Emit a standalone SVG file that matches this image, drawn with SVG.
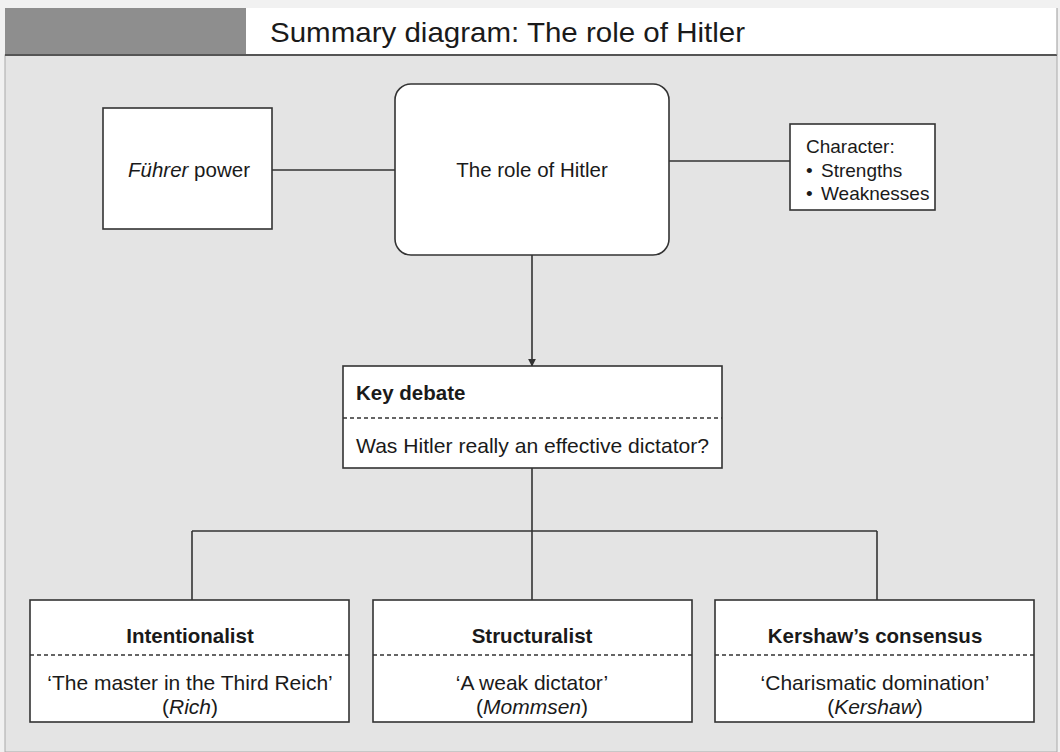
<svg xmlns="http://www.w3.org/2000/svg" width="1060" height="752" viewBox="0 0 1060 752">
<style>
text{font-family:"Liberation Sans",Arial,sans-serif;fill:#1a1a1a}
.box{fill:#fff;stroke:#333;stroke-width:1.6}
.dash{stroke:#333;stroke-width:1.4;stroke-dasharray:4 3;fill:none}
.conn{stroke:#333;stroke-width:1.6;fill:none}
.t20{font-size:20.5px}
.t19{font-size:19px}
.t21{font-size:21px}
.b{font-weight:bold}
.c{text-anchor:middle}
</style>
<defs>
<marker id="arr" viewBox="0 0 10 10" refX="9" refY="5" markerWidth="8" markerHeight="8" orient="auto" markerUnits="userSpaceOnUse">
<path d="M0,0 L10,5 L0,10 z" fill="#333"/>
</marker>
</defs>
<rect width="1060" height="752" fill="#f1f1f1"/>
<rect x="5" y="55" width="1052" height="697" fill="#e4e4e4" stroke="#aaa" stroke-width="1"/>
<g id="header">
<rect x="5" y="8" width="241" height="47" fill="#8e8e8e"/>
<rect x="246" y="8" width="811" height="47" fill="#fff"/>
<line x1="5" y1="55" x2="1057" y2="55" stroke="#555" stroke-width="2"/>
<line x1="1057" y1="8" x2="1057" y2="55" stroke="#999" stroke-width="1"/>
<text x="270" y="42" font-size="28" textLength="475" lengthAdjust="spacingAndGlyphs" fill="#333">Summary diagram: The role of Hitler</text>
</g>
<g id="connectors">
<line class="conn" x1="272" y1="170" x2="395" y2="170"/>
<line class="conn" x1="669" y1="161" x2="790" y2="161"/>
<line class="conn" x1="532" y1="255" x2="532" y2="366" marker-end="url(#arr)"/>
<line class="conn" x1="532" y1="468" x2="532" y2="531"/>
<line class="conn" x1="192" y1="531" x2="877" y2="531"/>
<line class="conn" x1="192" y1="531" x2="192" y2="600"/>
<line class="conn" x1="532" y1="531" x2="532" y2="600"/>
<line class="conn" x1="877" y1="531" x2="877" y2="600"/>
</g>
<g id="fuhrer">
<rect class="box" x="103" y="108" width="169" height="121"/>
<text class="t20 c" x="189" y="177"><tspan font-style="italic">Führer</tspan> power</text>
</g>
<g id="role">
<rect class="box" x="395" y="84" width="274" height="171" rx="16"/>
<text class="t20 c" x="532" y="177">The role of Hitler</text>
</g>
<g id="character">
<rect class="box" x="790" y="124" width="145" height="86"/>
<text class="t19" x="806" y="153">Character:</text>
<text class="t19" x="806" y="177">•</text>
<text class="t19" x="821" y="177">Strengths</text>
<text class="t19" x="806" y="200">•</text>
<text class="t19" x="821" y="200">Weaknesses</text>
</g>
<g id="keydebate">
<rect class="box" x="343" y="366" width="379" height="102"/>
<line class="dash" x1="343" y1="418" x2="722" y2="418"/>
<text class="t20 b" x="356" y="400">Key debate</text>
<text class="t21" x="356" y="453" textLength="353" lengthAdjust="spacingAndGlyphs">Was Hitler really an effective dictator?</text>
</g>
<g id="intentionalist">
<rect class="box" x="30" y="600" width="319" height="122"/>
<line class="dash" x1="30" y1="655" x2="349" y2="655"/>
<text class="t20 b c" x="190" y="643">Intentionalist</text>
<text class="t21 c" x="190" y="690">‘The master in the Third Reich’</text>
<text class="t21 c" x="190" y="714">(<tspan font-style="italic">Rich</tspan>)</text>
</g>
<g id="structuralist">
<rect class="box" x="373" y="600" width="319" height="122"/>
<line class="dash" x1="373" y1="655" x2="692" y2="655"/>
<text class="t20 b c" x="532" y="643">Structuralist</text>
<text class="t21 c" x="532" y="690">‘A weak dictator’</text>
<text class="t21 c" x="532" y="714">(<tspan font-style="italic">Mommsen</tspan>)</text>
</g>
<g id="kershaw">
<rect class="box" x="715" y="600" width="319" height="122"/>
<line class="dash" x1="715" y1="655" x2="1034" y2="655"/>
<text class="t20 b c" x="875" y="643">Kershaw’s consensus</text>
<text class="t21 c" x="875" y="690">‘Charismatic domination’</text>
<text class="t21 c" x="875" y="714">(<tspan font-style="italic">Kershaw</tspan>)</text>
</g>
</svg>
